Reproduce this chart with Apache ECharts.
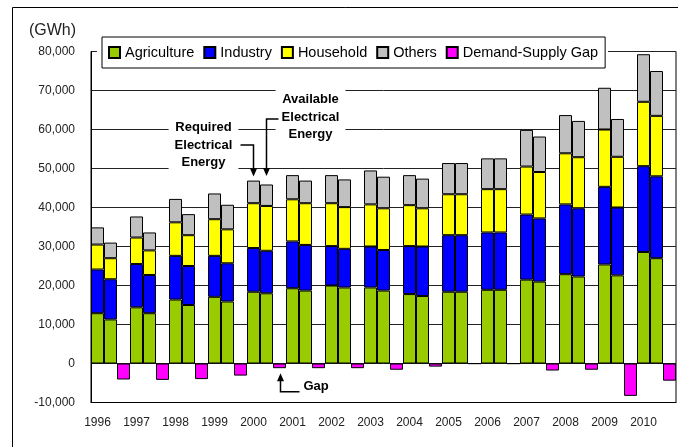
<!DOCTYPE html>
<html>
<head>
<meta charset="utf-8">
<script src="https://cdn.jsdelivr.net/npm/echarts@6/dist/echarts.min.js"></script>
<style>
  html, body { margin: 0; padding: 0; background: #fff; }
  #chart { width: 678px; height: 447px; }
</style>
</head>
<body>
<div id="chart"></div>
<script>
  // 연도별 값 (GWh) - 왼쪽 막대: 필요 전력량, 오른쪽 막대: 공급 가능 전력량
  const years = [1996, 1997, 1998, 1999, 2000, 2001, 2002, 2003, 2004, 2005, 2006, 2007, 2008, 2009, 2010]

  const agriReq  = [12900, 14400, 16400, 17100, 18400, 19300, 20000, 19500, 17800, 18400, 18900, 21500, 22900, 25400, 28600]
  const indReq   = [11200, 11100, 11200, 10500, 11200, 12000, 10100, 10500, 12300, 14500, 14700, 16700, 17900, 19900, 22000]
  const houseReq = [6400, 6800, 8600, 9400, 11500, 10800, 11000, 10800, 10500, 10500, 11100, 12300, 13100, 14700, 16500]
  const othReq   = [4400, 5400, 6000, 6600, 5800, 6200, 7200, 8700, 7700, 8000, 7900, 9400, 9800, 10700, 12200]

  const agriAv  = [11300, 12900, 15000, 15900, 18000, 18700, 19500, 18700, 17300, 18400, 18900, 21000, 22300, 22600, 27000]
  const indAv   = [10300, 9800, 10000, 9800, 10900, 11700, 9900, 10400, 12700, 14500, 14700, 16200, 17500, 17400, 21000]
  const houseAv = [5400, 6300, 7900, 8700, 11500, 10700, 10700, 10700, 9800, 10500, 11100, 11900, 13100, 13000, 15500]
  const othAv   = [4000, 4600, 5400, 6300, 5500, 5800, 7100, 8100, 7600, 8000, 7900, 9100, 9300, 9700, 11500]

  const gap = [-4100, -4200, -4000, -3100, -1200, -1200, -1200, -1600, -800, -50, -50, -1800, -1600, -8300, -4400]

  const yTicks = { min: -10000, max: 80000, interval: 10000 }

  const FONT = "'Liberation Sans', Arial, sans-serif"

  // 슬롯 3개 (필요 / 공급 / 갭) 로 펼치기
  const slots = years.flatMap(y => [y + '-req', y + '-av', y + '-gap'])
  const pairData = (req, av) => years.flatMap((_, i) => [req[i], av[i], null])
  const gapData = years.flatMap((_, i) => [null, null, gap[i]])

  const barStyle = (color) => ({ color: color, borderColor: '#000', borderWidth: 1 })

  const chart = echarts.init(document.getElementById('chart'))

  const option = {
    animation: false,
    backgroundColor: '#fff',
    textStyle: { fontFamily: FONT },
    grid: {
      left: 91, right: 2, top: 51.5, bottom: 44.5,
      show: true, borderColor: '#000', borderWidth: 1, backgroundColor: 'transparent'
    },
    legend: {
      data: ['Agriculture', 'Industry', 'Household', 'Others', 'Demand-Supply Gap'],
      left: 102, top: 37,
      icon: 'rect', itemWidth: 11, itemHeight: 11, itemGap: 9,
      padding: [8, 7, 8, 6],
      backgroundColor: '#fff', borderColor: '#000', borderWidth: 1,
      z: 200,
      textStyle: { fontFamily: FONT, fontSize: 14.5, color: '#000' }
    },
    xAxis: {
      type: 'category',
      data: slots,
      axisLine: { onZero: false, lineStyle: { color: '#000', width: 1 } },
      axisTick: { show: false },
      axisLabel: {
        interval: 0, margin: 14, fontSize: 12, color: '#222',
        formatter: (v) => v.endsWith('-req') ? v.slice(0, 4) : ''
      },
      splitLine: { show: false }
    },
    yAxis: {
      type: 'value',
      min: yTicks.min, max: yTicks.max, interval: yTicks.interval,
      name: '(GWh)', nameLocation: 'end', nameGap: 21,
      nameTextStyle: { fontSize: 16, color: '#222', align: 'right', verticalAlign: 'middle', padding: [0, 15, 0, 0] },
      axisLine: { show: true, lineStyle: { color: '#000' } },
      axisTick: { show: false },
      axisLabel: {
        fontSize: 12, color: '#222', margin: 16,
        formatter: (v) => echarts.format.addCommas(v)
      },
      splitLine: { lineStyle: { color: '#222', width: 1 } }
    },
    series: [
      { name: 'Agriculture', type: 'bar', stack: 'total', data: pairData(agriReq, agriAv), itemStyle: barStyle('#99cc00') },
      { name: 'Industry', type: 'bar', stack: 'total', data: pairData(indReq, indAv), itemStyle: barStyle('#0000ff') },
      { name: 'Household', type: 'bar', stack: 'total', data: pairData(houseReq, houseAv), itemStyle: barStyle('#ffff00') },
      { name: 'Others', type: 'bar', stack: 'total', data: pairData(othReq, othAv), itemStyle: barStyle('#c0c0c0') },
      {
        name: 'Demand-Supply Gap', type: 'bar', stack: 'total', data: gapData,
        itemStyle: barStyle('#ff00ff'), barCategoryGap: '0%'
      }
    ]
  }

  chart.setOption(option)

  // 주석 (화살표, 텍스트) - 2000년 막대 위치 기준
  const px = (idx, val) => chart.convertToPixel({ xAxisIndex: 0, yAxisIndex: 0 }, [idx, val])
  const k = years.indexOf(2000)
  const reqTotal = agriReq[k] + indReq[k] + houseReq[k] + othReq[k]
  const avTotal = agriAv[k] + indAv[k] + houseAv[k] + othAv[k]
  const reqTop = px(3 * k, reqTotal)
  const avTop = px(3 * k + 1, avTotal)
  const gapBot = px(3 * k + 2, gap[k])

  const line = (pts) => ({
    type: 'polyline', z: 150, shape: { points: pts },
    style: { stroke: '#000', lineWidth: 1.5, fill: null }
  })
  const headDown = (x, y) => ({
    type: 'polygon', z: 150, shape: { points: [[x - 3.5, y - 8], [x + 3.5, y - 8], [x, y]] }, style: { fill: '#000' }
  })
  const headUp = (x, y) => ({
    type: 'polygon', z: 150, shape: { points: [[x - 3.5, y + 8], [x + 3.5, y + 8], [x, y]] }, style: { fill: '#000' }
  })
  const note = (text, x, y, align) => ({
    type: 'text', z: 140, x: x, y: y,
    style: {
      text: text, fill: '#000', font: 'bold 13px ' + FONT, lineHeight: 17.5,
      align: align, verticalAlign: 'middle', backgroundColor: '#fff', padding: [1, 6]
    }
  })

  const rx = Math.round(reqTop[0]) - 0.5
  const ry = reqTop[1] - 35.5
  const ax = Math.round(avTop[0]) - 0.5
  const ay = avTop[1] - 65.5
  const gx = Math.round(gapBot[0]) + 0.5
  const gy = gapBot[1] + 23.5

  chart.setOption({
    graphic: [
      // 바깥 테두리
      { type: 'rect', z: 1, silent: true, shape: { x: 12.5, y: 7.5, width: 700, height: 500 }, style: { fill: null, stroke: '#000', lineWidth: 1 } },
      // 범례 주변 여백
      { type: 'rect', z: 100, silent: true, shape: { x: 97, y: 46, width: 511, height: 11 }, style: { fill: '#fff' } },
      note('Required\nElectrical\nEnergy', rx - 50, ry, 'center'),
      note('Available\nElectrical\nEnergy', ax + 44, ay - 2, 'center'),
      line([[rx - 13, ry], [rx, ry], [rx, reqTop[1] - 9]]),
      headDown(rx, reqTop[1] - 4),
      line([[ax + 12, ay], [ax, ay], [ax, avTop[1] - 13]]),
      headDown(ax, avTop[1] - 8.5),
      line([[gx, gapBot[1] + 9], [gx, gy], [gx + 19, gy]]),
      headUp(gx, gapBot[1] + 5),
      {
        type: 'text', z: 140, x: gx + 23, y: gy - 5,
        style: { text: 'Gap', fill: '#000', font: 'bold 13px ' + FONT, align: 'left', verticalAlign: 'middle' }
      }
    ]
  })
</script>
</body>
</html>
